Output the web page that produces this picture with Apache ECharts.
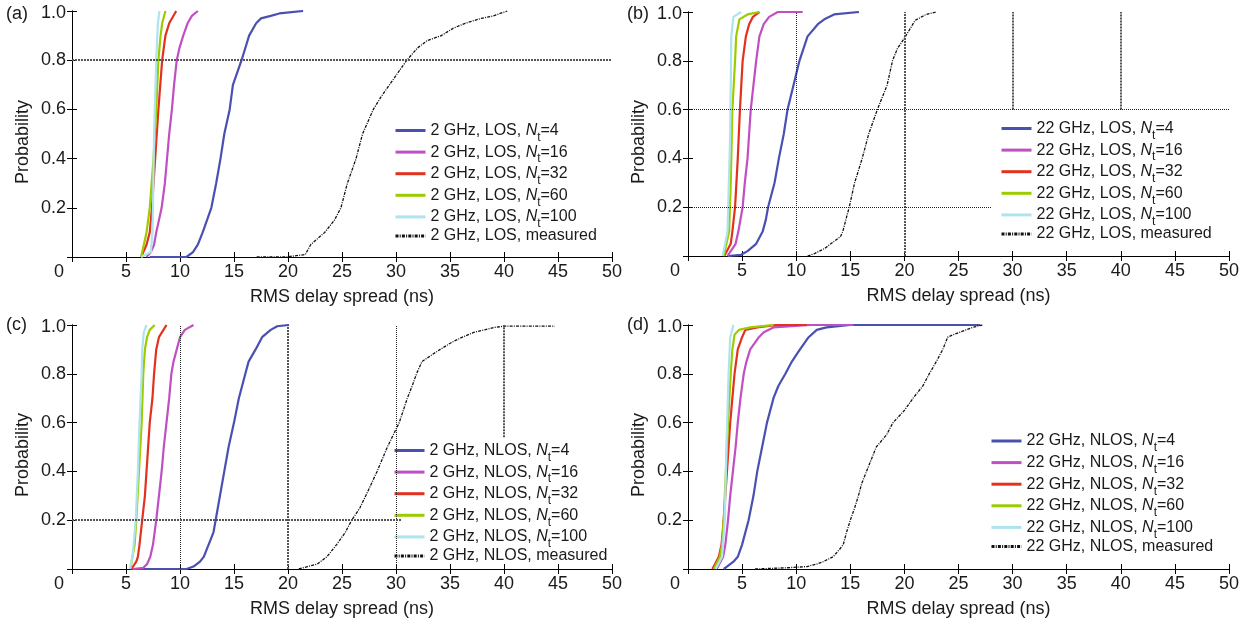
<!DOCTYPE html>
<html>
<head>
<meta charset="utf-8">
<script src="https://cdn.jsdelivr.net/npm/echarts@6/dist/echarts.min.js"></script>
<style>
  html, body { margin: 0; padding: 0; background: #fff; }
  #main { width: 1254px; height: 625px; }
</style>
</head>
<body>
<div id="main"></div>
<script>
// ---- data: [delay (ns), probability] ----
const xMax = 50, xStep = 5;
const yMax = 1, yStep = 0.2;

// (a) 2 GHz, LOS
const aLos4 = [[7.2,0],[10.6,0],[11.2,0.02],[11.65,0.05],[12.1,0.1],[12.9,0.2],[13.35,0.3],[13.75,0.4],[14.1,0.5],[14.6,0.6],[14.9,0.7],[15.7,0.8],[16.4,0.9],[17.05,0.95],[17.5,0.97],[18.4,0.98],[19.2,0.99],[21.4,1]];
const aLos16 = [[6.9,0],[7.3,0.02],[7.6,0.05],[7.8,0.1],[8.3,0.2],[8.6,0.3],[8.8,0.4],[9.0,0.5],[9.25,0.6],[9.45,0.7],[9.7,0.8],[9.95,0.85],[10.3,0.9],[10.7,0.95],[11.1,0.98],[11.65,1]];
const aLos32 = [[6.4,0],[6.9,0.05],[7.2,0.1],[7.4,0.2],[7.7,0.4],[7.85,0.5],[8.0,0.6],[8.35,0.8],[8.65,0.9],[9.0,0.95],[9.65,1]];
const aLos60 = [[6.4,0],[6.9,0.1],[7.2,0.2],[7.55,0.4],[7.8,0.6],[8.0,0.8],[8.2,0.9],[8.35,0.95],[8.65,1]];
const aLos100 = [[6.4,0],[7.3,0.02],[7.45,0.1],[7.5,0.2],[7.6,0.5],[7.8,0.8],[7.95,0.95],[8.1,1]];
const aLosMeas = [[17.1,0],[19.8,0],[19.8,0.005],[21.6,0.01],[22.1,0.05],[23.4,0.1],[24.3,0.15],[24.9,0.2],[25.5,0.3],[26.3,0.4],[26.9,0.5],[27.9,0.6],[28.6,0.65],[29.4,0.7],[30.2,0.75],[31.0,0.8],[32.0,0.85],[32.9,0.88],[34.2,0.9],[35.3,0.93],[36.4,0.95],[37.9,0.97],[39.0,0.98],[40.3,1]];

// (b) 22 GHz, LOS
const bLos4 = [[3.65,0],[4.9,0.005],[5.5,0.02],[6.3,0.05],[6.9,0.1],[7.2,0.15],[7.4,0.2],[8.0,0.3],[8.4,0.4],[8.85,0.5],[9.2,0.6],[9.75,0.7],[10.3,0.8],[11.05,0.9],[12.0,0.95],[12.6,0.97],[13.5,0.99],[15.8,1]];
const bLos16 = [[3.65,0],[4.4,0.05],[4.65,0.1],[5.05,0.2],[5.25,0.3],[5.5,0.4],[5.65,0.5],[5.8,0.6],[6.05,0.7],[6.3,0.8],[6.6,0.9],[7.0,0.95],[7.5,0.98],[8.3,1],[10.6,1]];
const bLos32 = [[3.35,0],[3.95,0.05],[4.1,0.1],[4.35,0.2],[4.6,0.4],[4.8,0.6],[5.05,0.8],[5.35,0.9],[5.65,0.95],[6.0,0.98],[6.6,1]];
const bLos60 = [[3.3,0],[3.8,0.1],[3.95,0.3],[4.1,0.6],[4.35,0.8],[4.45,0.9],[4.75,0.97],[5.5,0.99],[6.6,1]];
const bLos100 = [[3.2,0],[3.65,0.1],[3.9,0.5],[4.0,0.9],[4.2,0.98],[4.9,1]];
const bLosMeas = [[11.05,0],[11.7,0.01],[12.6,0.03],[13.2,0.05],[14.1,0.08],[14.3,0.1],[14.6,0.15],[14.9,0.2],[15.4,0.3],[15.75,0.35],[16.1,0.4],[16.7,0.5],[17.5,0.6],[18.4,0.7],[18.9,0.8],[19.35,0.85],[20.1,0.9],[21.0,0.966],[22.0,0.99],[22.9,1]];

// (c) 2 GHz, NLOS
const cNlos4 = [[5.5,0],[10.6,0],[11.25,0.01],[11.85,0.03],[12.2,0.05],[12.65,0.1],[13.1,0.15],[13.3,0.2],[13.7,0.3],[14.1,0.4],[14.5,0.5],[15.0,0.6],[15.45,0.7],[16.05,0.8],[16.35,0.85],[17.0,0.9],[17.6,0.95],[18.4,0.98],[19.0,0.995],[20.1,1]];
const cNlos16 = [[5.65,0],[6.6,0.005],[6.95,0.02],[7.25,0.05],[7.5,0.1],[7.8,0.2],[8.05,0.3],[8.3,0.4],[8.5,0.5],[8.75,0.6],[9.0,0.7],[9.2,0.8],[9.4,0.85],[9.7,0.9],[10.0,0.95],[10.45,0.98],[11.25,1]];
const cNlos32 = [[5.5,0],[5.95,0.03],[6.1,0.05],[6.25,0.1],[6.5,0.2],[6.75,0.3],[6.9,0.4],[7.05,0.5],[7.2,0.6],[7.45,0.7],[7.6,0.8],[7.8,0.9],[8.05,0.95],[8.75,1]];
const cNlos60 = [[5.4,0],[5.8,0.1],[5.95,0.2],[6.2,0.4],[6.45,0.6],[6.6,0.8],[6.75,0.9],[6.95,0.95],[7.2,0.98],[7.65,1]];
const cNlos100 = [[5.35,0],[5.6,0.05],[5.7,0.1],[5.9,0.2],[6.1,0.4],[6.25,0.6],[6.45,0.8],[6.5,0.9],[6.65,0.97],[6.9,1]];
const cNlosMeas = [[21.0,0],[21.8,0.01],[22.7,0.02],[23.6,0.05],[24.5,0.1],[25.3,0.15],[25.9,0.2],[26.65,0.25],[27.2,0.3],[28.25,0.4],[29.2,0.5],[29.75,0.55],[30.3,0.6],[31.05,0.7],[31.5,0.75],[31.9,0.8],[32.4,0.85],[33.4,0.88],[34.1,0.9],[35.2,0.93],[36.15,0.95],[37.2,0.97],[38.2,0.98],[39.1,0.99],[40.0,0.995],[44.7,0.995]];

// (d) 22 GHz, NLOS
const dNlos4 = [[3.3,0],[3.6,0.01],[4.2,0.03],[4.6,0.05],[5.0,0.1],[5.3,0.15],[5.6,0.2],[6.05,0.3],[6.4,0.4],[6.85,0.5],[7.3,0.6],[7.9,0.7],[8.35,0.75],[9.0,0.8],[9.6,0.85],[10.35,0.9],[11.15,0.95],[11.9,0.98],[12.8,0.99],[15.0,1],[27.0,1]];
const dNlos16 = [[2.65,0],[3.25,0.05],[3.45,0.1],[3.7,0.2],[3.9,0.3],[4.15,0.4],[4.4,0.5],[4.6,0.6],[4.85,0.7],[5.15,0.8],[5.4,0.85],[5.75,0.9],[6.55,0.95],[7.0,0.97],[7.9,0.99],[11.3,1],[15.3,1]];
const dNlos32 = [[2.25,0],[2.5,0.02],[2.85,0.05],[3.1,0.1],[3.3,0.2],[3.6,0.4],[3.9,0.6],[4.3,0.8],[4.6,0.9],[5.0,0.95],[5.3,0.98],[6.4,0.99],[8.2,1],[11.0,1]];
const dNlos60 = [[2.4,0],[2.95,0.05],[3.15,0.1],[3.3,0.2],[3.5,0.4],[3.7,0.6],[3.95,0.8],[4.1,0.9],[4.3,0.96],[4.7,0.98],[5.75,0.99],[7.9,1]];
const dNlos100 = [[2.55,0],[3.15,0.05],[3.4,0.2],[3.55,0.5],[3.75,0.8],[3.9,0.95],[4.2,1]];
const dNlosMeas = [[6.2,0],[9.1,0.005],[11.0,0.01],[11.9,0.02],[12.5,0.03],[13.4,0.05],[14.0,0.08],[14.35,0.1],[14.65,0.15],[15.0,0.2],[15.4,0.25],[15.75,0.3],[16.05,0.35],[16.5,0.4],[16.95,0.45],[17.4,0.5],[18.35,0.55],[18.95,0.6],[20.0,0.65],[20.8,0.7],[21.7,0.75],[22.3,0.8],[22.95,0.85],[23.55,0.9],[24.0,0.95],[24.5,0.96],[26.3,0.99],[27.2,1]];

const antennas = ['4', '16', '32', '60', '100'];
const colors = ['#4a50b2', '#c04fc4', '#e2321f', '#9ccc00', '#aee4ee', '#111111'];

// reference lines: [x1, y1, x2, y2, heavy]
const aRefs = [[0, 0.8, 50, 0.8, true]];
const bRefs = [[10, 0, 10, 1, false], [20, 0, 20, 1, true], [30, 0.6, 30, 1, true], [40, 0.6, 40, 1, true],
               [0, 0.6, 50, 0.6, false], [0, 0.2, 28, 0.2, false]];
const cRefs = [[10, 0, 10, 1, false], [20, 0, 20, 1, true], [30, 0, 30, 1, false], [40, 0.54, 40, 1, true],
               [0, 0.2, 30.5, 0.2, true]];
const dRefs = [];

const FONT = "'Liberation Sans', Arial, Helvetica, sans-serif";
const TXT = '#1a1a1a';

const grids = [], xAxes = [], yAxes = [], series = [], legends = [];

function legendText(name) {
  const m = name.match(/^(.*)N_t(=.*)$/);
  if (!m) return name;
  return m[1] + '{i|N}{s|t}' + m[2];
}

function panel(k, box, prefix, datas, refs, leg) {
  grids.push({ left: box[0], top: box[1], width: box[2], height: box[3], outerBoundsMode: 'none' });
  const line = { show: true, lineStyle: { color: '#000', width: 1 } };
  const tick = { show: true, inside: true, length: 5, lineStyle: { color: '#000', width: 1 } };
  xAxes.push({
    type: 'value', gridIndex: k, min: 0, max: xMax, interval: xStep, position: 'bottom',
    axisLine: line, axisTick: tick, splitLine: { show: false },
    axisLabel: {
      margin: 6, fontSize: 18, color: TXT, fontFamily: FONT,
      formatter: v => v === 0 ? '{z|0}' : String(v),
      rich: { z: { fontSize: 18, color: TXT, fontFamily: FONT, padding: [0, 26, 0, 0] } }
    },
    name: 'RMS delay spread (ns)', nameLocation: 'middle', nameGap: 31,
    nameTextStyle: { fontSize: 18, color: TXT, fontFamily: FONT }
  });
  xAxes.push({
    type: 'value', gridIndex: k, min: 0, max: xMax, interval: xStep, position: 'top',
    axisLine: line, axisTick: tick, axisLabel: { show: false }, splitLine: { show: false }
  });
  yAxes.push({
    type: 'value', gridIndex: k, min: 0, max: yMax, interval: yStep, position: 'left',
    axisLine: line, axisTick: tick, splitLine: { show: false },
    axisLabel: {
      margin: 6, fontSize: 18, color: TXT, fontFamily: FONT,
      formatter: v => v === 0 ? '' : (v === 1 ? '{t|1.0}' : v.toFixed(1)),
      rich: { t: { fontSize: 18, color: TXT, fontFamily: FONT, padding: [5, 0, 0, 0] } }
    },
    name: 'Probability', nameLocation: 'middle', nameGap: 40,
    nameTextStyle: { fontSize: 18, color: TXT, fontFamily: FONT, padding: [0, 16, 0, 0] }
  });
  yAxes.push({
    type: 'value', gridIndex: k, min: 0, max: yMax, interval: yStep, position: 'right',
    axisLine: line, axisTick: tick, axisLabel: { show: false }, splitLine: { show: false }
  });

  const names = antennas.map(n => prefix + 'N_t=' + n).concat([prefix + 'measured']);
  names.forEach((name, i) => {
    const meas = i === 5;
    const s = {
      type: 'line', name: name, xAxisIndex: 2 * k, yAxisIndex: 2 * k,
      data: datas[i], symbol: 'none', showSymbol: false, animation: false,
      color: colors[i], itemStyle: { color: colors[i] },
      lineStyle: meas ? { color: colors[i], width: 1.3, type: [3, 1.2, 1, 1.2] }
                      : { color: colors[i], width: 2.2 },
      z: 3
    };
    if (meas) {
      s.markLine = {
        silent: true, symbol: ['none', 'none'], animation: false, label: { show: false },
        data: refs.map(r => [
          { coord: [r[0], r[1]], lineStyle: r[4]
              ? { color: '#555', width: 2, type: [2, 1] }
              : { color: '#222', width: 1, type: [1, 1] } },
          { coord: [r[2], r[3]] }
        ])
      };
    }
    series.push(s);
  });

  legends.push({
    data: names, orient: 'vertical', left: leg[0], top: leg[1], padding: 0,
    itemWidth: 30, itemHeight: 14, itemGap: -4.4, selectedMode: false,
    itemStyle: { opacity: 0 },
    lineStyle: { width: 3 },
    formatter: legendText,
    textStyle: {
      fontSize: 16, color: TXT, fontFamily: FONT, lineHeight: 21,
      rich: {
        i: { fontSize: 16, fontStyle: 'italic', color: TXT, fontFamily: FONT, lineHeight: 21 },
        s: { fontSize: 12, color: TXT, fontFamily: FONT, lineHeight: 21, padding: [14, 0, 0, 0] }
      }
    }
  });
}

panel(0, [72, 11, 540, 246], '2 GHz, LOS, ', [aLos4, aLos16, aLos32, aLos60, aLos100, aLosMeas], aRefs, [394, 117.5]);
panel(1, [688, 12, 541, 244], '22 GHz, LOS, ', [bLos4, bLos16, bLos32, bLos60, bLos100, bLosMeas], bRefs, [1000, 115.5]);
panel(2, [72, 325, 540, 244], '2 GHz, NLOS, ', [cNlos4, cNlos16, cNlos32, cNlos60, cNlos100, cNlosMeas], cRefs, [393, 437.5]);
panel(3, [688, 325, 541, 244], '22 GHz, NLOS, ', [dNlos4, dNlos16, dNlos32, dNlos60, dNlos100, dNlosMeas], dRefs, [990, 428]);

const panelLabels = [['(a)', 6, 5], ['(b)', 627, 5], ['(c)', 6, 316], ['(d)', 627, 316]];

const chart = echarts.init(document.getElementById('main'), null, { renderer: 'canvas' });
chart.setOption({
  animation: false,
  backgroundColor: '#ffffff',
  grid: grids,
  xAxis: xAxes,
  yAxis: yAxes,
  legend: legends,
  series: series,
  graphic: panelLabels.map(p => ({
    type: 'text', left: p[1], top: p[2],
    style: { text: p[0], fontSize: 18, fill: TXT, font: '18px ' + FONT }
  }))
});
</script>
</body>
</html>
